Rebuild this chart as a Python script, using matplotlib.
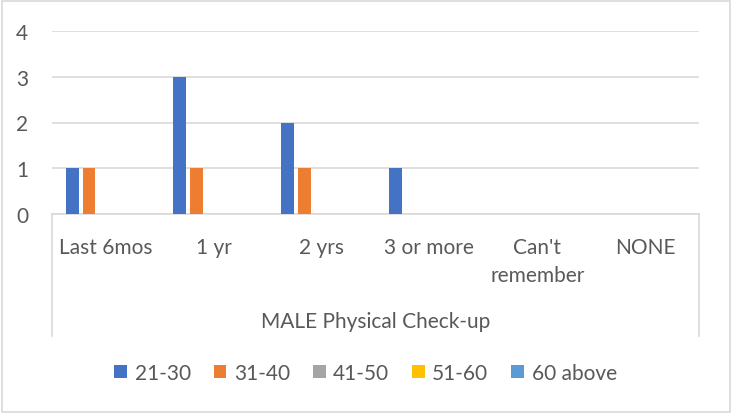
import numpy as np
import matplotlib
matplotlib.use("Agg")
import matplotlib.pyplot as plt
from matplotlib.lines import Line2D

plt.rcParams['font.family'] = ['Lato', 'DejaVu Sans']

# data
categories = ["Last 6mos", "1 yr", "2 yrs", "3 or more", "Can't\nremember", "NONE"]
series_names = ["21-30", "31-40", "41-50", "51-60", "60 above"]
s_21_30 = [1, 3, 2, 1, 0, 0]
s_31_40 = [1, 1, 1, 0, 0, 0]
s_41_50 = [0, 0, 0, 0, 0, 0]
s_51_60 = [0, 0, 0, 0, 0, 0]
s_60_above = [0, 0, 0, 0, 0, 0]
group_label = "MALE Physical Check-up"
colors = ["#4472C4", "#ED7D31", "#A5A5A5", "#FFC000", "#5B9BD5"]

W, H = 731, 414
fig = plt.figure(figsize=(W / 100, H / 100), dpi=100)
txt = "#595959"
fs = 15

# plot area in pixels
x0, x1 = 52, 699
ytop, ybot = 32, 215
ax = fig.add_axes([x0 / W, 1 - ybot / H, (x1 - x0) / W, (ybot - ytop) / H])

all_series = [s_21_30, s_31_40, s_41_50, s_51_60, s_60_above]
x = np.arange(len(categories))
step = 0.157
bw = 0.12
for i, (vals, name, c) in enumerate(zip(all_series, series_names, colors)):
    ax.bar(x + (i - 2) * step, vals, width=bw, color=c, label=name, zorder=3)

ax.set_xlim(-0.5, len(categories) - 0.5)
ax.set_ylim(0, 4)
ax.set_yticks([0, 1, 2, 3, 4])
ax.grid(axis='y', color='#D9D9D9', linewidth=1.2, zorder=0)
ax.tick_params(axis='y', length=0, pad=17, labelsize=fs, labelcolor=txt)
ax.tick_params(axis='x', length=0)
ax.set_xticks([])
for s in ['top', 'right', 'left']:
    ax.spines[s].set_visible(False)
ax.spines['bottom'].set_color('#D9D9D9')
ax.spines['bottom'].set_linewidth(1.2)

# category labels (multi-level axis)
for xi, lab in zip(x, categories):
    xp = (x0 + (xi + 0.5) * (x1 - x0) / len(categories)) / W
    fig.text(xp, 1 - 238 / H, lab, ha='center', va='top', fontsize=fs,
             color=txt, linespacing=1.5)
fig.text((x0 + x1) / 2 / W, 1 - 322 / H, group_label, ha='center', va='center',
         fontsize=fs, color=txt)

for xp in (x0, x1):
    fig.add_artist(Line2D([xp / W, xp / W], [1 - ybot / H, 1 - 337 / H],
                          color='#D9D9D9', linewidth=1.2))

# outer border
fig.add_artist(plt.Rectangle((1.5 / W, 1.5 / H), (W - 3) / W, (H - 3) / H,
                             fill=False, edgecolor='#D9D9D9', linewidth=1.2,
                             transform=fig.transFigure))

fig.legend(loc='center', bbox_to_anchor=(0.5, 1 - 374 / H), ncol=5,
           frameon=False, fontsize=fs, labelcolor=txt, handlelength=0.62,
           handleheight=0.62, handletextpad=0.35, columnspacing=1.1)

fig.savefig("out.png", dpi=100)
